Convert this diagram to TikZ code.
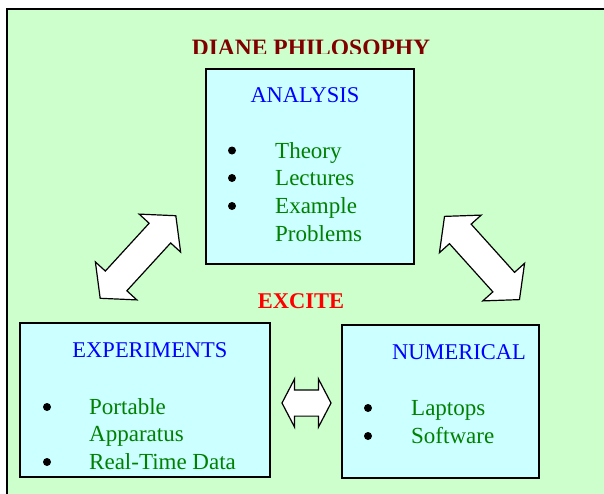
\documentclass[tikz,border=0pt]{standalone}
\usepackage{fontspec}
\setmainfont{Liberation Serif}
\usetikzlibrary{shapes.arrows}
\newlength{\du}
\setlength{\du}{1pt}
\definecolor{slidegreen}{rgb}{0.800000, 1.000000, 0.800000}
\definecolor{panelcyan}{rgb}{0.800000, 1.000000, 1.000000}
\definecolor{headblue}{rgb}{0.000000, 0.000000, 1.000000}
\definecolor{itemgreen}{rgb}{0.000000, 0.500000, 0.000000}
\definecolor{titlered}{rgb}{0.500000, 0.000000, 0.000000}
\definecolor{excitered}{rgb}{1.000000, 0.000000, 0.000000}
\tikzset{
  panel/.style={draw=black, line width=1.5\du, fill=panelcyan, inner sep=0pt},
  heading/.style={anchor=base, text=headblue, inner sep=0pt, font=\fontsize{22.5}{27}\selectfont},
  item/.style={anchor=base west, text=itemgreen, inner sep=0pt, font=\fontsize{23}{27}\selectfont},
  dot/.style={circle, fill=black, inner sep=0pt, minimum size=8\du},
  fatarrow/.style={double arrow, draw=black, line width=1.2\du, fill=white, inner xsep=0pt}
}

\begin{document}
\begin{tikzpicture}
\pgftransformxscale{1.000000}
\pgftransformyscale{-1.000000}
\fill[white] (0\du,0\du) rectangle (604\du,493\du);
\useasboundingbox (0\du,0\du) rectangle (604\du,493\du);
% slide background
\draw[fill=slidegreen, line width=2\du] (7\du,9\du) rectangle (620\du,510\du);
% title, cut off at the bottom
\begin{scope}
\clip (0\du,0\du) rectangle (604\du,53\du);
\node[anchor=base, text=titlered, inner sep=0pt, font=\bfseries\fontsize{23.5}{27}\selectfont] (title) at (311\du,55.5\du) {DIANE PHILOSOPHY};
\end{scope}
% analysis box
\node[panel, minimum width=208\du, minimum height=195\du] (analysis) at (310\du,166.5\du) {};
\node[heading] (analysishead) at (305\du,102\du) {ANALYSIS};
\node[dot] (dottheory) at (232\du,150.5\du) {};
\node[item] (theory) at (275\du,158\du) {Theory};
\node[dot] (dotlectures) at (232\du,178\du) {};
\node[item] (lectures) at (275\du,185\du) {Lectures};
\node[dot] (dotexample) at (232\du,206\du) {};
\node[item] (example) at (275\du,213\du) {Example};
\node[item] (problems) at (275\du,241\du) {Problems};
% experiments box
\node[panel, minimum width=250\du, minimum height=154\du] (experiments) at (145\du,400\du) {};
\node[heading] (experimentshead) at (150\du,357\du) {EXPERIMENTS};
\node[dot] (dotportable) at (47\du,407\du) {};
\node[item] (portable) at (89\du,414\du) {Portable};
\node[item] (apparatus) at (89\du,441\du) {Apparatus};
\node[dot] (dotrealtime) at (47\du,462\du) {};
\node[item] (realtime) at (89\du,469\du) {Real-Time Data};
% numerical box
\node[panel, minimum width=197\du, minimum height=153\du] (numerical) at (440.5\du,401.5\du) {};
\node[heading] (numericalhead) at (459\du,359\du) {NUMERICAL};
\node[dot] (dotlaptops) at (368\du,408\du) {};
\node[item] (laptops) at (411\du,415\du) {Laptops};
\node[dot] (dotsoftware) at (368\du,436\du) {};
\node[item] (software) at (411\du,443\du) {Software};
% centre word
\node[anchor=base, text=excitered, inner sep=0pt, font=\bfseries\fontsize{22.5}{27}\selectfont] (excite) at (301\du,308\du) {EXCITE};
% block arrows
\node[fatarrow, inner ysep=14\du, minimum height=112\du, double arrow head extend=13.5\du, double arrow tip angle=100, rotate=47.5] (leftlink) at (138\du,257\du) {};
\node[fatarrow, inner ysep=14\du, minimum height=112\du, double arrow head extend=13.5\du, double arrow tip angle=100, rotate=-48] (rightlink) at (482\du,258\du) {};
\node[fatarrow, inner ysep=12.5\du, minimum height=49\du, double arrow head extend=11\du, double arrow tip angle=125] (midlink) at (306.5\du,403\du) {};
\end{tikzpicture}
\end{document}
